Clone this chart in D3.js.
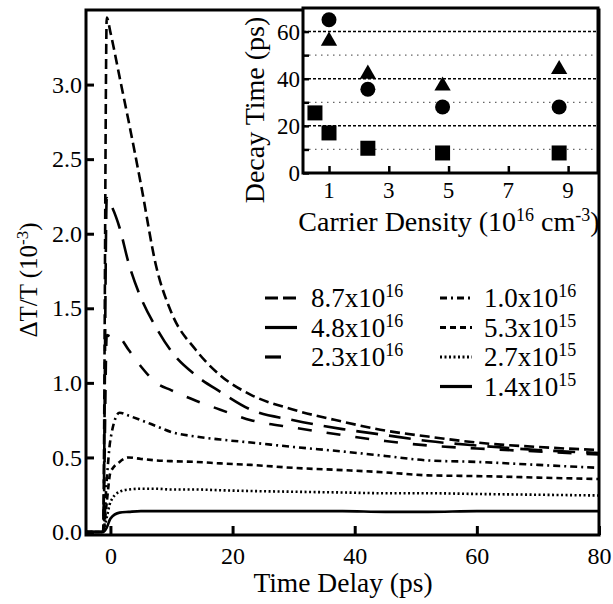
<!DOCTYPE html>
<html>
<head>
<meta charset="utf-8">
<script src="https://cdn.jsdelivr.net/npm/d3@7"></script>
<style>
  body { margin: 0; background: #fff; }
  text { font-family: "Liberation Serif", "Times New Roman", serif; fill: #000; }
</style>
</head>
<body>
<script>
// ---- main plot data ----
const times = [-4, -1.2, -0.6, 0, 1.5, 3, 5, 7.5, 10, 14, 18, 23, 30, 38, 45, 52, 60, 70, 80];

const v87 = [0, 0, 3.45, 3.35, 3.05, 2.75, 2.33, 1.78, 1.47, 1.22, 1.05, 0.92, 0.82, 0.74, 0.68, 0.64, 0.60, 0.57, 0.55];
const v48 = [0, 0, 2.24, 2.20, 2.04, 1.80, 1.57, 1.37, 1.21, 1.05, 0.94, 0.82, 0.75, 0.69, 0.65, 0.61, 0.58, 0.55, 0.53];
const v23 = [0, 0, 1.32, 1.31, 1.30, 1.22, 1.11, 1.00, 0.95, 0.88, 0.82, 0.75, 0.70, 0.65, 0.61, 0.58, 0.56, 0.54, 0.52];
const v10 = [0, 0, 0.35, 0.62, 0.80, 0.78, 0.75, 0.71, 0.67, 0.64, 0.62, 0.60, 0.57, 0.54, 0.51, 0.48, 0.47, 0.45, 0.43];
const v53 = [0, 0, 0.20, 0.40, 0.47, 0.50, 0.49, 0.48, 0.475, 0.47, 0.46, 0.45, 0.43, 0.415, 0.40, 0.38, 0.375, 0.365, 0.355];
const v27 = [0, 0, 0.10, 0.20, 0.27, 0.285, 0.29, 0.29, 0.285, 0.285, 0.28, 0.275, 0.27, 0.265, 0.26, 0.26, 0.255, 0.25, 0.245];
const v14 = [0, 0, 0.03, 0.09, 0.13, 0.135, 0.14, 0.14, 0.14, 0.14, 0.14, 0.14, 0.14, 0.14, 0.135, 0.135, 0.14, 0.14, 0.14];

const seriesNames = [["8.7x10", "16"], ["4.8x10", "16"], ["2.3x10", "16"], ["1.0x10", "16"], ["5.3x10", "15"], ["2.7x10", "15"], ["1.4x10", "15"]];
const seriesValues = [v87, v48, v23, v10, v53, v27, v14];
const dashes = ["10,5", "22,11", "14,15", "7,4,2,4", "6,4", "2,2.5", null];

const mainXTicks = [0, 20, 40, 60, 80];
const mainYTicks = [0, 0.5, 1.0, 1.5, 2.0, 2.5, 3.0];

// ---- inset data ----
const densSquare = [0.53, 1.0, 2.3, 4.8, 8.7];
const tauSquare = [25.5, 17, 10.5, 8.5, 8.5];
const densCircle = [1.0, 2.3, 4.8, 8.7];
const tauCircle = [65, 35.5, 28, 28];
const densTriangle = [1.0, 2.3, 4.8, 8.7];
const tauTriangle = [56, 42, 37, 44];
const insetXTicks = [1, 3, 5, 7, 9];
const insetYTicks = [0, 20, 40, 60];

const width = 613, height = 604;

var svg = d3.select("body").append("svg")
    .attr("width", width)
    .attr("height", height);

var x = d3.scaleLinear().domain([-4, 80]).range([86, 599]);
var y = d3.scaleLinear().domain([-0.02, 3.5]).range([535, 10]);

var line = d3.line()
    .x(function(d) { return x(d[0]); })
    .y(function(d) { return y(d[1]); })
    .curve(d3.curveMonotoneX);

// curves
seriesValues.forEach(function(vals, i) {
    var pts = times.map(function(t, j) { return [t, vals[j]]; });
    svg.append("path")
        .datum(pts)
        .attr("fill", "none")
        .attr("stroke", "#000")
        .attr("stroke-width", 2.6)
        .attr("stroke-dasharray", dashes[i])
        .attr("d", line);
});

// y axis (ticks inward)
var yAxis = d3.axisLeft(y)
    .tickValues(mainYTicks)
    .tickSize(-8)
    .tickPadding(4)
    .tickFormat(d3.format(".1f"));
var gy = svg.append("g")
    .attr("transform", "translate(86,0)")
    .call(yAxis);
gy.select(".domain").remove();
gy.selectAll(".tick line").attr("stroke-width", 3);
gy.selectAll(".tick text").style("font-size", "24px").style("font-family", "Liberation Serif");

// x axis (ticks inward)
var xAxis = d3.axisBottom(x)
    .tickValues(mainXTicks)
    .tickSize(-9)
    .tickPadding(12);
var gx = svg.append("g")
    .attr("transform", "translate(0,535)")
    .call(xAxis);
gx.select(".domain").remove();
gx.selectAll(".tick line").attr("stroke-width", 3);
gx.selectAll(".tick text").style("font-size", "24px").style("font-family", "Liberation Serif");

// frame
svg.append("rect")
    .attr("x", 86).attr("y", 10)
    .attr("width", 599 - 86).attr("height", 535 - 10)
    .attr("fill", "none")
    .attr("stroke", "#000")
    .attr("stroke-width", 3);

// axis titles
svg.append("text")
    .attr("x", 343).attr("y", 592)
    .style("text-anchor", "middle")
    .style("font-size", "27.5px")
    .text("Time Delay (ps)");

var yt = svg.append("text")
    .attr("transform", "translate(37,280) rotate(-90)")
    .style("text-anchor", "middle")
    .style("font-size", "25px");
yt.append("tspan").text("\u0394T/T (10");
yt.append("tspan").attr("baseline-shift", "super").style("font-size", "17px").text("-3");
yt.append("tspan").text(")");

// legend
var legRows = [0, 1, 2, 0, 1, 2, 3];
var legCols = [0, 0, 0, 1, 1, 1, 1];
seriesNames.forEach(function(nm, i) {
    var lx = legCols[i] == 0 ? 265 : 440;
    var ly = 298 + legRows[i] * 29.5;
    var len = i == 2 ? 16 : (i == 0 ? 31 : 32);
    svg.append("line")
        .attr("x1", lx).attr("x2", lx + len)
        .attr("y1", ly).attr("y2", ly)
        .attr("stroke", "#000")
        .attr("stroke-width", 3.2)
        .attr("stroke-dasharray", i == 1 || i == 2 ? null : (i == 0 ? "13,5" : dashes[i]));
    var t = svg.append("text")
        .attr("x", legCols[i] == 0 ? 311 : 484)
        .attr("y", ly + 9)
        .style("font-size", "27px");
    t.append("tspan").text(nm[0]);
    t.append("tspan").attr("baseline-shift", "super").style("font-size", "18px").text(nm[1]);
});

// ---- inset ----
var ix = d3.scaleLinear().domain([0.13, 10]).range([303, 598]);
var iy = d3.scaleLinear().domain([0, 70]).range([173, 8]);

svg.append("rect")
    .attr("x", ix.range()[0]).attr("y", iy.range()[1])
    .attr("width", ix.range()[1] - ix.range()[0])
    .attr("height", iy.range()[0] - iy.range()[1])
    .attr("fill", "#fff");

// grid lines
[10, 20, 30, 40, 50, 60].forEach(function(v) {
    var major = v % 20 == 0;
    svg.append("line")
        .attr("x1", ix.range()[0]).attr("x2", ix.range()[1])
        .attr("y1", iy(v)).attr("y2", iy(v))
        .attr("stroke", major ? "#000" : "#666")
        .attr("stroke-width", major ? 1.5 : 1.2)
        .attr("stroke-dasharray", major ? "3,2" : "1.5,4.5");
});

var iyAxis = d3.axisRight(iy)
    .tickValues([0, 10, 20, 30, 40, 50, 60])
    .tickSize(6)
    .tickFormat("");
var giy = svg.append("g")
    .attr("transform", "translate(303,0)")
    .call(iyAxis);
giy.select(".domain").remove();
giy.selectAll(".tick line").attr("stroke-width", 2.5);

var ylabs = svg.append("g");
insetYTicks.forEach(function(v) {
    ylabs.append("text")
        .attr("x", 300)
        .attr("y", iy(v) + 8)
        .style("text-anchor", "end")
        .style("font-size", "23px")
        .text(String(v));
});

var ixAxis = d3.axisTop(ix)
    .tickValues(insetXTicks)
    .tickSize(7)
    .tickFormat("");
var gix = svg.append("g")
    .attr("transform", "translate(0,173)")
    .call(ixAxis);
gix.select(".domain").remove();
gix.selectAll(".tick line").attr("stroke-width", 2.5);

svg.selectAll(".ixlab")
    .data(insetXTicks)
    .enter()
    .append("text")
    .attr("class", "ixlab")
    .attr("x", function(d) { return ix(d); })
    .attr("y", 198)
    .style("text-anchor", "middle")
    .style("font-size", "23px")
    .text(function(d) { return d; });

svg.append("rect")
    .attr("x", 303).attr("y", 8)
    .attr("width", 598 - 303).attr("height", 173 - 8)
    .attr("fill", "none")
    .attr("stroke", "#000")
    .attr("stroke-width", 3);

// markers
svg.selectAll(".sq")
    .data(densSquare)
    .enter()
    .append("rect")
    .attr("class", "sq")
    .attr("x", function(d) { return ix(d) - 7.5; })
    .attr("y", function(d, i) { return iy(tauSquare[i]) - 7.5; })
    .attr("width", 15).attr("height", 15)
    .attr("fill", "#000");

svg.selectAll(".ci")
    .data(densCircle)
    .enter()
    .append("circle")
    .attr("class", "ci")
    .attr("cx", function(d) { return ix(d); })
    .attr("cy", function(d, i) { return iy(tauCircle[i]); })
    .attr("r", 7.5)
    .attr("fill", "#000");

var tri = d3.symbol().type(d3.symbolTriangle).size(115);
svg.selectAll(".tr")
    .data(densTriangle)
    .enter()
    .append("path")
    .attr("class", "tr")
    .attr("transform", function(d, i) { return "translate(" + ix(d) + "," + iy(tauTriangle[i]) + ")"; })
    .attr("d", tri)
    .attr("fill", "#000");

svg.append("text")
    .attr("transform", "translate(264,110) rotate(-90)")
    .style("text-anchor", "middle")
    .style("font-size", "28px")
    .text("Decay Time (ps)");

var xt = svg.append("text")
    .attr("x", 449).attr("y", 231)
    .style("text-anchor", "middle")
    .style("font-size", "28px");
xt.append("tspan").text("Carrier Density (10");
xt.append("tspan").attr("baseline-shift", "super").style("font-size", "18px").text("16");
xt.append("tspan").text(" cm");
xt.append("tspan").attr("baseline-shift", "super").style("font-size", "18px").text("-3");
xt.append("tspan").text(")");
</script>
</body>
</html>
